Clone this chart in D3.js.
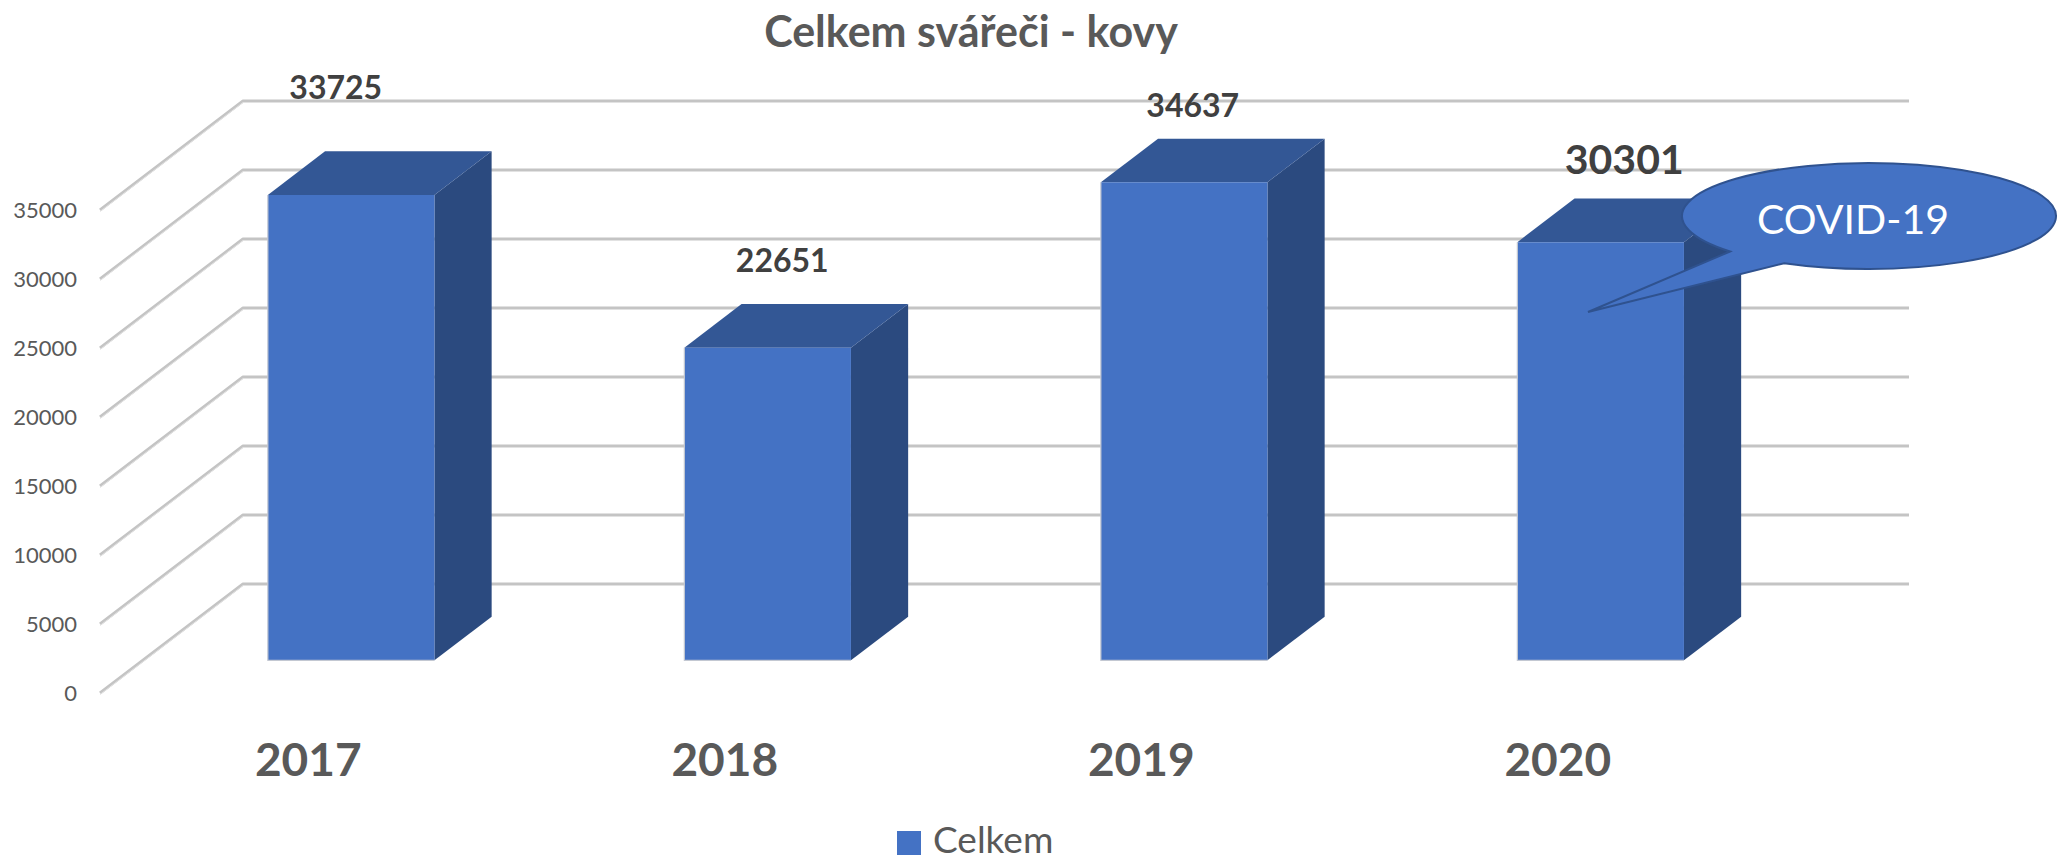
<!DOCTYPE html>
<html>
<head>
<meta charset="utf-8">
<script src="https://cdn.jsdelivr.net/npm/d3@7"></script>
<style>
  body { margin: 0; background: #ffffff; }
  text { font-family: Lato, "Open Sans", sans-serif; }
</style>
</head>
<body>
<script>
// data
var years = ["2017", "2018", "2019", "2020"];
var totals = [33725, 22651, 34637, 30301];
var yTicks = [0, 5000, 10000, 15000, 20000, 25000, 30000, 35000];
var seriesName = "Celkem";
var chartTitle = "Celkem svářeči - kovy";
var calloutText = "COVID-19";

var width = 2059;
var height = 861;

// 3d look: how far the back wall is shifted from the front plane
var depthX = 143;
var depthY = 109;
var barFront = 0.3;
var barBack = 0.7;

// hand nudges of the data labels (they were dragged in the original)
var labelNudge = [[-44, -30], [-14, -10], [-20, 0], [-5, -3]];
var labelSize = [32, 32, 32, 41];

var svg = d3.select("body")
    .append("svg")
    .attr("width", width)
    .attr("height", height)
    .attr("id", "drawhere");

var x = d3.scaleBand()
    .domain(years)
    .range([100, 1766])
    .paddingInner(0.6)
    .paddingOuter(0.3);

var y = d3.scaleLinear()
    .domain([0, 35000])
    .range([693, 210]);

function proj(px, v, d) {
    return [px + d * depthX, y(v) - d * depthY];
}

// title
svg.append("text")
    .attr("x", 971)
    .attr("y", 47)
    .attr("text-anchor", "middle")
    .attr("font-size", 43)
    .attr("font-weight", "bold")
    .attr("fill", "#595959")
    .text(chartTitle);

// gridlines: back wall + side wall diagonals
var grid = svg.append("g").attr("class", "grid");
yTicks.forEach(function(t) {
    var f = proj(x.range()[0], t, 0);
    var b = proj(x.range()[0], t, 1);
    var e = proj(x.range()[1], t, 1);
    grid.append("path")
        .attr("d", "M" + f + "L" + b + "L" + e)
        .attr("fill", "none")
        .attr("stroke", "#c4c4c4")
        .attr("stroke-width", 3)
        .attr("stroke-linejoin", "round");
    grid.append("path")
        .attr("d", "M" + [f[0], f[1] + 1.5] + "L" + [b[0], b[1] + 1.5] + "L" + [e[0], e[1] + 1.5])
        .attr("fill", "none")
        .attr("stroke", "#e2e2e2")
        .attr("stroke-width", 1);
});

// axis tick labels
svg.append("g")
    .selectAll("text")
    .data(yTicks)
    .enter()
    .append("text")
    .attr("x", 77)
    .attr("y", function(d) { return y(d); })
    .attr("dy", "0.36em")
    .attr("text-anchor", "end")
    .attr("font-size", 22)
    .attr("fill", "#595959")
    .text(function(d) { return d; });

// bars
var bars = svg.append("g")
    .selectAll("g")
    .data(years)
    .enter()
    .append("g");

bars.append("path")   // side
    .attr("d", function(d, i) {
        var x1 = x(d) + x.bandwidth();
        return "M" + proj(x1, 0, barFront) + "L" + proj(x1, totals[i], barFront) +
            "L" + proj(x1, totals[i], barBack) + "L" + proj(x1, 0, barBack) + "Z";
    })
    .attr("fill", "#2b4a7f");

bars.append("path")   // top
    .attr("d", function(d, i) {
        var x0 = x(d), x1 = x(d) + x.bandwidth();
        return "M" + proj(x0, totals[i], barFront) + "L" + proj(x1, totals[i], barFront) +
            "L" + proj(x1, totals[i], barBack) + "L" + proj(x0, totals[i], barBack) + "Z";
    })
    .attr("fill", "#335795");

bars.append("path")   // front
    .attr("d", function(d, i) {
        var x0 = x(d), x1 = x(d) + x.bandwidth();
        return "M" + proj(x0, 0, barFront) + "L" + proj(x0, totals[i], barFront) +
            "L" + proj(x1, totals[i], barFront) + "L" + proj(x1, 0, barFront) + "Z";
    })
    .attr("fill", "#4472c4");

bars.append("path")   // light edge on left and bottom of the front face
    .attr("d", function(d, i) {
        var x0 = x(d), x1 = x(d) + x.bandwidth();
        return "M" + proj(x0, totals[i], barFront) + "L" + proj(x0, 0, barFront) +
            "L" + proj(x1, 0, barFront);
    })
    .attr("fill", "none")
    .attr("stroke", "#c3c8d2")
    .attr("stroke-width", 1.2);

// data labels
bars.append("text")
    .attr("x", function(d, i) {
        return proj(x(d) + x.bandwidth() / 2, totals[i], (barFront + barBack) / 2)[0] + labelNudge[i][0];
    })
    .attr("y", function(d, i) {
        return proj(x(d), totals[i], barBack)[1] - 22 + labelNudge[i][1];
    })
    .attr("text-anchor", "middle")
    .attr("font-size", function(d, i) { return labelSize[i]; })
    .attr("font-weight", "bold")
    .attr("fill", "#404040")
    .text(function(d, i) { return totals[i]; });

// category labels
svg.append("g")
    .selectAll("text")
    .data(years)
    .enter()
    .append("text")
    .attr("x", function(d) { return x(d) + x.bandwidth() / 2; })
    .attr("y", 776)
    .attr("text-anchor", "middle")
    .attr("font-size", 46)
    .attr("font-weight", "bold")
    .attr("fill", "#595959")
    .text(function(d) { return d; });

// COVID callout (wedge ellipse)
var cx = 1869, cy = 216, rx = 187, ry = 53;
var tip = [1588, 312];
var a1 = 138 * Math.PI / 180, a2 = 117 * Math.PI / 180;
var pA = [cx + rx * Math.cos(a1), cy + ry * Math.sin(a1)];
var pB = [cx + rx * Math.cos(a2), cy + ry * Math.sin(a2)];
svg.append("path")
    .attr("d", "M" + pA + "L" + tip + "L" + pB +
        "A" + rx + "," + ry + " 0 1 0 " + pA + "Z")
    .attr("fill", "#4472c4")
    .attr("stroke", "#2f528f")
    .attr("stroke-width", 2);
svg.append("text")
    .attr("x", 1853)
    .attr("y", 234)
    .attr("text-anchor", "middle")
    .attr("font-size", 41)
    .attr("fill", "#ffffff")
    .text(calloutText);

// legend
svg.append("rect")
    .attr("x", 897)
    .attr("y", 831)
    .attr("width", 24)
    .attr("height", 24)
    .attr("fill", "#4472c4");
svg.append("text")
    .attr("x", 933)
    .attr("y", 853)
    .attr("font-size", 37)
    .attr("fill", "#595959")
    .text(seriesName);
</script>
</body>
</html>
